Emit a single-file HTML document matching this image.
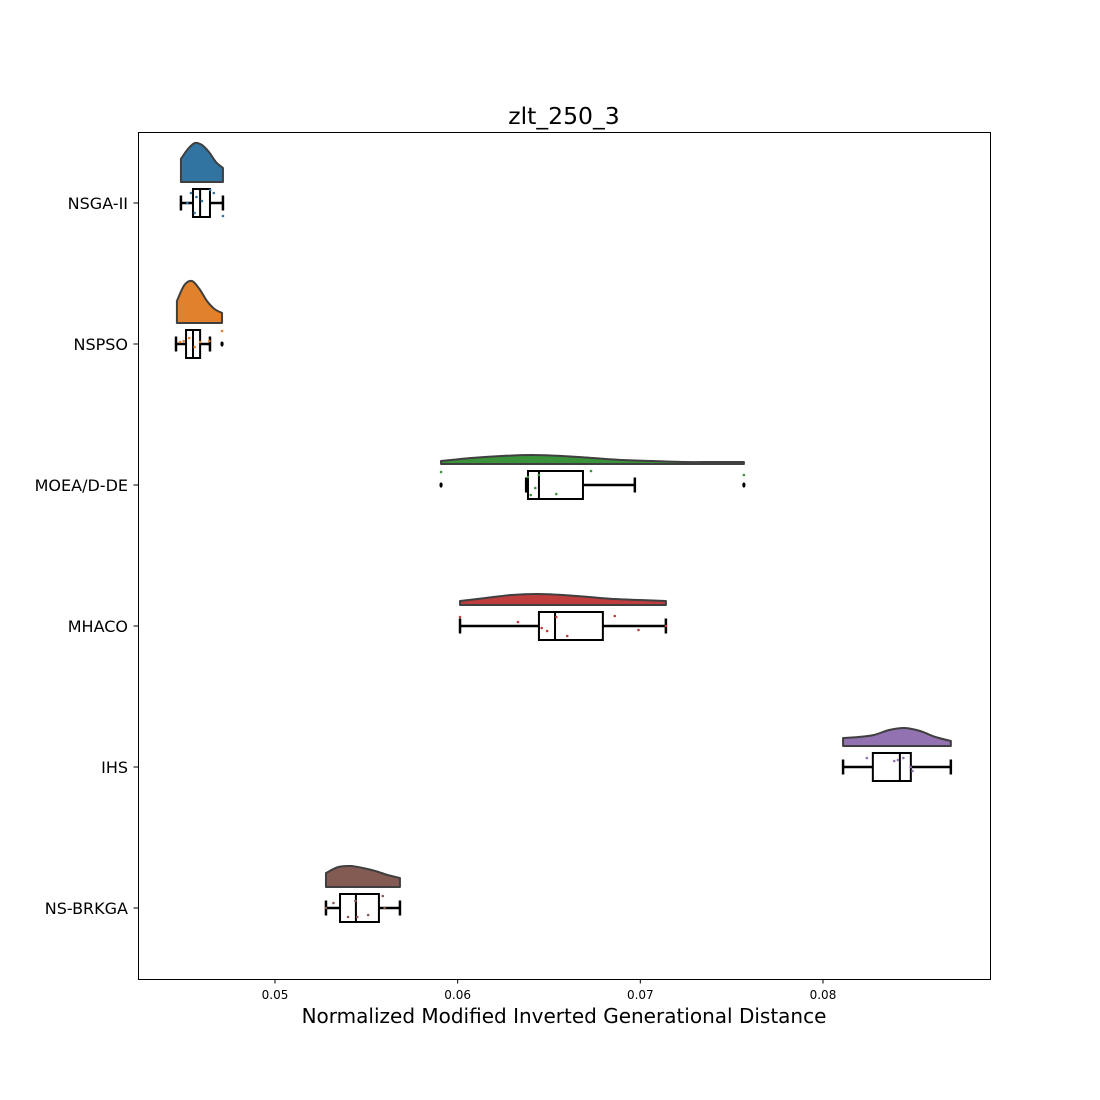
<!DOCTYPE html>
<html><head><meta charset="utf-8">
<style>
html,body{margin:0;padding:0;background:#fff;}
svg{display:block;font-family:"DejaVu Sans","Liberation Sans",sans-serif;}
</style></head>
<body>
<svg id="chart" width="1100" height="1100" viewBox="0 0 1100 1100">
<rect x="0" y="0" width="1100" height="1100" fill="#fff"/>
<text x="564" y="124" text-anchor="middle" font-size="23.5">zlt_250_3</text>
<g id="plot"></g>
<rect x="138.5" y="132.5" width="852" height="847" fill="none" stroke="#000" stroke-width="1"/>
<text x="564" y="1023" text-anchor="middle" font-size="20">Normalized Modified Inverted Generational Distance</text>
</svg>
<script>
const categories = ["NSGA-II","NSPSO","MOEA/D-DE","MHACO","IHS","NS-BRKGA"];
const colors = ["#3274a1","#e1812c","#3a923a","#c03d3e","#9372b2","#845b53"];
const whiskerLo = [0.04485,0.04458,0.06375,0.06013,0.0811,0.05279];
const q1 =        [0.04551,0.04513,0.06385,0.06445,0.08273,0.05356];
const medians =   [0.04590,0.04551,0.06445,0.06533,0.08421,0.05443];
const q3 =        [0.04644,0.04590,0.06686,0.06795,0.08481,0.05569];
const whiskerHi = [0.04715,0.04644,0.06970,0.07140,0.08700,0.05684];
const outliers =  [[],[0.0471],[0.05909,0.07567],[],[],[]];
const violinMin = [0.04485,0.04463,0.05909,0.06013,0.0811,0.05279];
const violinMax = [0.04715,0.04710,0.07567,0.07140,0.0870,0.05684];
const densities = [
 [23,33,39,37,30,20,14],
 [22,38,42,34,22,14,10],
 [3,6,8,9,8,6,4,3,2,2,2],
 [4,7,10,11,10,8,6,5,4],
 [8,9,11,16,18,15,9,5],
 [14,20,21,19,16,12,9]
];
const pointVals = [
 [0.04540,0.04520,0.04645,0.04665,0.04560,0.04715,0.04570,0.04600],
 [0.04480,0.04500,0.04530,0.04560,0.04590,0.04640,0.04710],
 [0.05909,0.06385,0.06400,0.06425,0.06445,0.06540,0.06730,0.07567],
 [0.06013,0.06330,0.06460,0.06490,0.06540,0.06600,0.06860,0.06990,0.07140],
 [0.08240,0.08390,0.08410,0.08440,0.08480,0.08490],
 [0.05279,0.05320,0.05400,0.05440,0.05450,0.05510,0.05590,0.05600]
];
const pointJitter = [
 [-10,0,-13,-10,10,13,-6,-2],
 [-2,-3,-6,3,-2,-3,-13],
 [-13,-8,10,3,-10,9,-14,-10],
 [-9,-4,2,5,-9,10,-10,4,0],
 [-9,-6,-7,-9,0,4],
 [0,-5,9,-7,9,7,-12,0]
];
const xTicks = [0.05,0.06,0.07,0.08];
const xTickLabels = ["0.05","0.06","0.07","0.08"];

const X0 = 275, PXU = 18266;
function xs(v){ return X0 + (v-0.05)*PXU; }
function ys(i){ return 203 + i*141; }
const NS='http://www.w3.org/2000/svg';
const plot=document.getElementById('plot');
const svg=document.getElementById('chart');
function mk(tag, attrs, parent){
  const e=document.createElementNS(NS,tag);
  for(const k in attrs) e.setAttribute(k,attrs[k]);
  (parent||plot).appendChild(e); return e;
}
xTicks.forEach((t,k)=>{
  const x=xs(t);
  const l=mk('line',{x1:x,x2:x,y1:979,y2:983.5,stroke:'#000','stroke-width':1},svg);
  
  
  const tx=mk('text',{x:x,y:999,'text-anchor':'middle','font-size':12},svg);
  tx.textContent=xTickLabels[k];
  
  
});
categories.forEach((c,i)=>{
  const y=ys(i);
  const g=mk('g',{});
  
  
  const tk=mk('line',{x1:133.5,x2:138,y1:y,y2:y,stroke:'#000','stroke-width':1},svg);
  
  
  const lb=mk('text',{x:128,y:y+6,'text-anchor':'end','font-size':16},svg);
  lb.textContent=c;
  
  
  const d=densities[i], n=d.length, base=y-21;
  const pts=[];
  for(let k=0;k<n;k++){
    const v=violinMin[i]+(violinMax[i]-violinMin[i])*k/(n-1);
    pts.push([xs(v), base-d[k]]);
  }
  let p='M'+xs(violinMin[i])+','+base+' L'+pts[0][0]+','+pts[0][1];
  for(let k=0;k<n-1;k++){
    const p0=pts[Math.max(0,k-1)],p1=pts[k],p2=pts[k+1],p3=pts[Math.min(n-1,k+2)];
    const c1=[p1[0]+(p2[0]-p0[0])/6, p1[1]+(p2[1]-p0[1])/6];
    const c2=[p2[0]-(p3[0]-p1[0])/6, p2[1]-(p3[1]-p1[1])/6];
    p+=' C'+c1[0]+','+c1[1]+' '+c2[0]+','+c2[1]+' '+p2[0]+','+p2[1];
  }
  p+=' L'+xs(violinMax[i])+','+base+' Z';
  const vi=mk('path',{d:p,fill:colors[i],stroke:'#3f3f3f','stroke-width':2,'stroke-linejoin':'round'},g);
  
  
  const wl=mk('line',{x1:xs(whiskerLo[i]),x2:xs(q1[i]),y1:y,y2:y,stroke:'#000','stroke-width':2.5},g);
  
  
  const wh=mk('line',{x1:xs(q3[i]),x2:xs(whiskerHi[i]),y1:y,y2:y,stroke:'#000','stroke-width':2.5},g);
  
  
  [whiskerLo[i],whiskerHi[i]].forEach(v=>{
    const cp=mk('line',{x1:xs(v),x2:xs(v),y1:y-7.5,y2:y+7.5,stroke:'#000','stroke-width':2.5},g);
    
    
  });
  const bx=mk('rect',{x:xs(q1[i]),y:y-14,width:xs(q3[i])-xs(q1[i]),height:28,fill:'#fff',stroke:'#000','stroke-width':2},g);
  
  
  const md=mk('line',{x1:xs(medians[i]),x2:xs(medians[i]),y1:y-14,y2:y+14,stroke:'#000','stroke-width':2},g);
  
  
  outliers[i].forEach(v=>{
    const o=mk('ellipse',{cx:xs(v),cy:y,rx:1.6,ry:2.6,fill:'#000'},g);
    
    
  });
  pointVals[i].forEach((v,k)=>{
    const pt=mk('circle',{cx:xs(v),cy:y+pointJitter[i][k],r:1.3,fill:colors[i]},g);
    
    
  });
});
</script>
</body></html>
